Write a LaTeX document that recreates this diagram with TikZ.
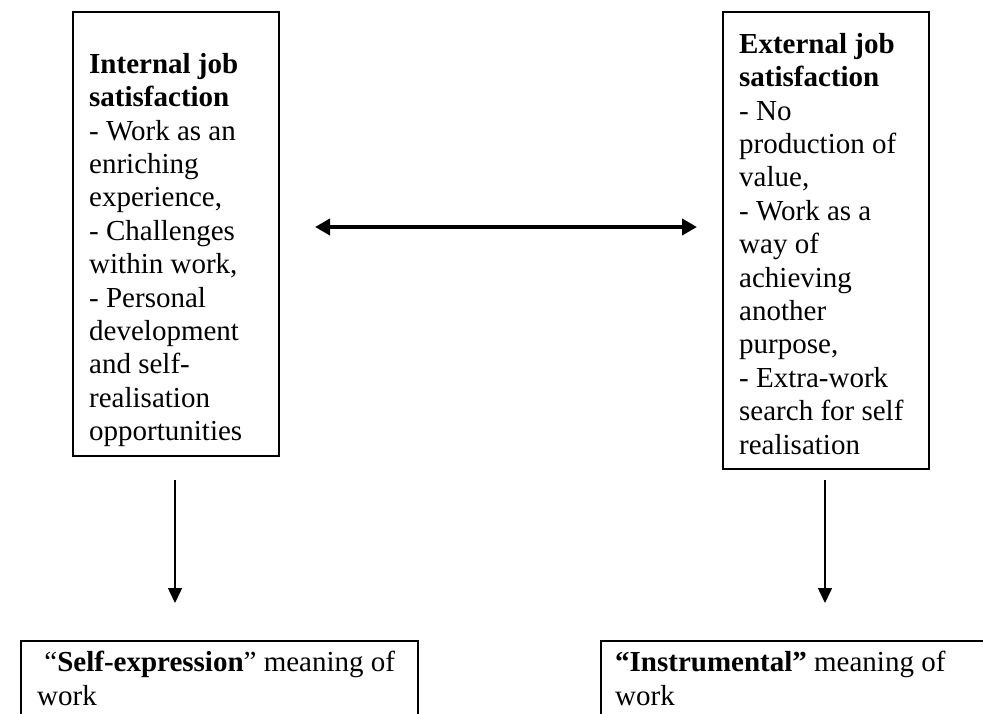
\documentclass[tikz,border=0pt]{standalone}
\usepackage{fontspec}
\setmainfont{Liberation Serif}
\usetikzlibrary{arrows.meta}

\begin{document}
\begin{tikzpicture}[x=1pt,y=-1pt,
    every node/.style={font=\fontsize{29pt}{33.4pt}\selectfont},
    frame/.style={draw,line width=1.5pt,anchor=north west,inner sep=0pt},
    txt/.style={anchor=north west,inner sep=0pt,align=left},
    down/.style={-{Triangle[length=15pt,width=14pt]},line width=1.5pt},
    both/.style={{Triangle[length=15pt,width=16pt]}-{Triangle[length=15pt,width=16pt]},line width=4.5pt}]
    \useasboundingbox (0,0) rectangle (983,713);
    \clip (0,0) rectangle (983,713);
    %satisfaction
    \node[frame,minimum width=206pt,minimum height=444pt] (int) at (72,11) {};
    \node[txt] (inttext) at (89,53) {\textbf{Internal job}\\\textbf{satisfaction}\\- Work as an\\enriching\\experience,\\- Challenges\\within work,\\- Personal\\development\\and self-\\realisation\\opportunities};
    \node[frame,minimum width=206pt,minimum height=457pt] (ext) at (722,11) {};
    \node[txt] (exttext) at (739,33) {\textbf{External job}\\\textbf{satisfaction}\\- No\\production of\\value,\\- Work as a\\way of\\achieving\\another\\purpose,\\- Extra-work\\search for self\\realisation};
    %meaning of work
    \node[frame,minimum width=397pt,minimum height=120pt] (self) at (20,640) {};
    \node[txt] (selftext) at (37,651) {~“\textbf{Self-expression}” meaning of\\work};
    \node[frame,minimum width=400pt,minimum height=120pt] (instr) at (600,640) {};
    \node[txt] (instrtext) at (615,651) {\textbf{“Instrumental”} meaning of\\work};
    %arrows
    \coordinate (l) at (315,227);
    \coordinate (r) at (697,227);
    \coordinate (a1) at (175,480);
    \coordinate (b1) at (175,603);
    \coordinate (a2) at (825,480);
    \coordinate (b2) at (825,603);
    \draw (l) edge[both] (r);
    \draw (a1) edge[down] (b1);
    \draw (a2) edge[down] (b2);
\end{tikzpicture}
\end{document}
